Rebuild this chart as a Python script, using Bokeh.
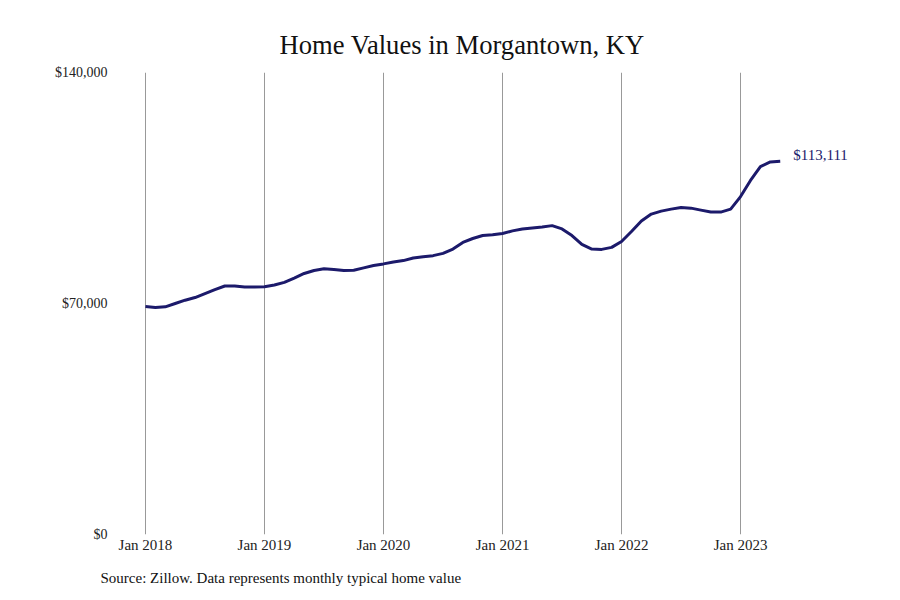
from bokeh.plotting import figure
from bokeh.models import FixedTicker, NumeralTickFormatter, Title, ColumnDataSource
from bokeh.core.properties import value
from bokeh.embed import file_html
from bokeh.resources import INLINE

# Monthly typical home value, Jan 2018 .. May 2023
months = list(range(65))
values = [
    69100, 68800, 69000, 70000, 71000, 71800, 73000, 74200, 75300, 75300, 75000, 75000,  # 2018
    75100, 75600, 76400, 77700, 79100, 80000, 80500, 80300, 80000, 80100, 80800, 81500,  # 2019
    82000, 82600, 83000, 83800, 84200, 84500, 85200, 86500, 88500, 89700, 90600, 90800,  # 2020
    91200, 92000, 92600, 92900, 93200, 93600, 92600, 90600, 87900, 86500, 86400, 87000,  # 2021
    88800, 91800, 95000, 97100, 98000, 98600, 99100, 98900, 98300, 97700, 97700, 98600,  # 2022
    102400, 107300, 111500, 112900, 113111,                                              # 2023
]
tick_positions = [0, 12, 24, 36, 48, 60]
tick_labels = ["Jan 2018", "Jan 2019", "Jan 2020", "Jan 2021", "Jan 2022", "Jan 2023"]
y_ticks = [0, 70000, 140000]
last_label = "$113,111"

NAVY = "#1c1a6b"
SERIF = "Liberation Serif"
SANS = "Liberation Sans Narrow"

p = figure(width=884, height=598, output_backend="svg", toolbar_location=None,
           x_range=(-3.02, 73.1), y_range=(0, 140000),
           min_border_left=115, min_border_right=14, min_border_top=72, min_border_bottom=64)
p.outline_line_color = None
p.background_fill_color = "white"
p.border_fill_color = "white"

p.title.text = "Home Values in Morgantown, KY"
p.title.align = "left"
p.title.offset = 164
p.title.standoff = 25
p.title.text_font = SERIF
p.title.text_font_size = "26.6px"
p.title.text_font_style = "normal"
p.title.text_color = "#111111"

src = ColumnDataSource(data=dict(x=months, y=values))
p.line("x", "y", source=src, line_color=NAVY, line_width=3)

p.text(x=[months[-1]], y=[values[-1]], text=[last_label], x_offset=13, y_offset=-6,
       text_baseline="middle", text_align="left", text_font=value(SERIF),
       text_font_size="15px", text_color=NAVY)

# x axis
p.xaxis.ticker = FixedTicker(ticks=tick_positions)
p.xaxis.major_label_overrides = {t: l for t, l in zip(tick_positions, tick_labels)}
p.xaxis.axis_line_color = None
p.xaxis.major_tick_line_color = None
p.xaxis.minor_tick_line_color = None
p.xaxis.major_tick_out = 0
p.xaxis.major_tick_in = 0
p.xaxis.major_label_standoff = 2
p.xaxis.major_label_text_font = SANS
p.xaxis.major_label_text_font_size = "15px"
p.xaxis.major_label_text_color = "#222222"

# y axis
p.yaxis.ticker = FixedTicker(ticks=y_ticks)
p.yaxis.formatter = NumeralTickFormatter(format="$0,0")
p.yaxis.axis_line_color = None
p.yaxis.major_tick_line_color = None
p.yaxis.minor_tick_line_color = None
p.yaxis.major_tick_out = 0
p.yaxis.major_tick_in = 0
p.yaxis.major_label_standoff = 8
p.yaxis.major_label_text_font = SERIF
p.yaxis.major_label_text_font_size = "14px"
p.yaxis.major_label_text_color = "#222222"

p.xgrid.ticker = FixedTicker(ticks=tick_positions)
p.xgrid.grid_line_color = "#999999"
p.xgrid.grid_line_width = 1
p.ygrid.grid_line_color = None

src_title = Title(text="Source: Zillow. Data represents monthly typical home value",
                  align="left", text_font=SANS, text_font_size="15px",
                  text_font_style="normal", text_color="#111111", offset=-15,
                  standoff=24)
p.add_layout(src_title, "below")

open("out.html", "w").write(file_html(p, INLINE))
